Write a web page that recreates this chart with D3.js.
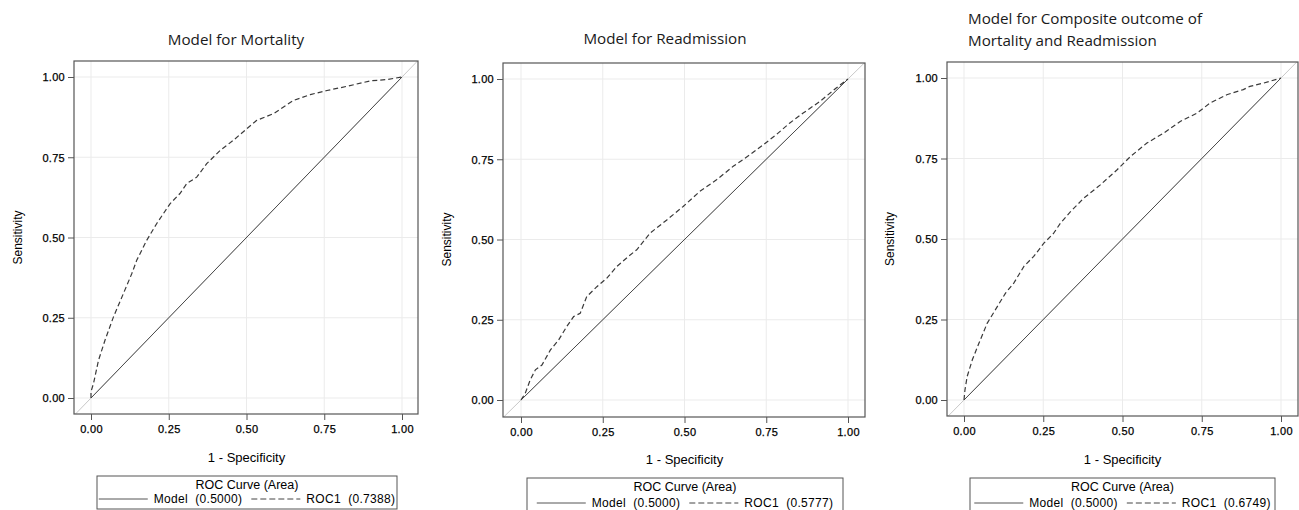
<!DOCTYPE html>
<html>
<head>
<meta charset="utf-8">
<script src="https://cdn.jsdelivr.net/npm/d3@7"></script>
<style>
  html, body { margin: 0; padding: 0; background: #fff; }
  svg { display: block; }
  text { font-family: "Liberation Sans", Arial, sans-serif; }
  .title { font-family: "Open Sans", "Noto Sans", sans-serif; font-size: 15.2px; fill: #1a1a1a; }
</style>
</head>
<body>
<svg id="chart" width="1299" height="510"></svg>
<script>
// ---------------- DATA ----------------
const panelTitles = [
  ["Model for Mortality"],
  ["Model for Readmission"],
  ["Model for Composite outcome of", "Mortality and Readmission"]
];
const tickValues = [0, 0.25, 0.5, 0.75, 1];
const tickLabels = ["0.00", "0.25", "0.50", "0.75", "1.00"];
const xAxisTitle = "1 - Specificity";
const yAxisTitle = "Sensitivity";
const legendTitle = "ROC Curve (Area)";
const modelAreas = ["0.5000", "0.5000", "0.5000"];
const rocAreas = ["0.7388", "0.5777", "0.6749"];

// reference (Model) line
const modelFpr = [0, 1];
const modelTpr = [0, 1];

// ROC1 curve: Mortality
const mortFpr = [0, 0, 0.008, 0.024, 0.045, 0.072, 0.104, 0.131, 0.147, 0.179, 0.211, 0.254, 0.286, 0.308, 0.34, 0.372, 0.415, 0.458, 0.501, 0.533, 0.587, 0.651, 0.705, 0.759, 0.823, 0.898, 0.952, 1];
const mortTpr = [0, 0.02, 0.045, 0.117, 0.18, 0.252, 0.325, 0.387, 0.429, 0.491, 0.543, 0.605, 0.637, 0.668, 0.688, 0.73, 0.771, 0.803, 0.839, 0.865, 0.886, 0.927, 0.945, 0.958, 0.971, 0.988, 0.992, 1];

// ROC1 curve: Readmission
const readFpr = [0, 0.013, 0.028, 0.044, 0.064, 0.09, 0.115, 0.14, 0.161, 0.181, 0.201, 0.232, 0.262, 0.293, 0.334, 0.354, 0.395, 0.446, 0.496, 0.547, 0.598, 0.649, 0.7, 0.741, 0.781, 0.822, 0.863, 0.914, 0.964, 1];
const readTpr = [0, 0.021, 0.062, 0.094, 0.109, 0.156, 0.187, 0.229, 0.26, 0.27, 0.322, 0.353, 0.379, 0.416, 0.452, 0.468, 0.52, 0.561, 0.603, 0.65, 0.686, 0.728, 0.764, 0.795, 0.827, 0.863, 0.894, 0.93, 0.972, 1];

// ROC1 curve: Composite
const compFpr = [0, 0.003, 0.01, 0.026, 0.047, 0.073, 0.105, 0.131, 0.157, 0.189, 0.22, 0.252, 0.283, 0.304, 0.336, 0.378, 0.43, 0.483, 0.525, 0.577, 0.63, 0.682, 0.735, 0.776, 0.829, 0.881, 0.902, 0.944, 1];
const compTpr = [0, 0.031, 0.073, 0.124, 0.176, 0.238, 0.29, 0.332, 0.363, 0.415, 0.446, 0.487, 0.518, 0.549, 0.585, 0.627, 0.668, 0.715, 0.756, 0.798, 0.829, 0.865, 0.891, 0.922, 0.948, 0.964, 0.974, 0.984, 1];

const rocFpr = [mortFpr, readFpr, compFpr];
const rocTpr = [mortTpr, readTpr, compTpr];

// ---------------- LAYOUT ----------------
const layout = [
  { frame: [74, 61, 418, 414], x: [91, 402], y: [398, 77], ylab: 18, titleX: 236, titleAnchor: "middle", titleY: [45],
    xlabY: 462, legend: { x0: 97, x1: 397, top: 476, bottom: 509, titleY: 489, rowY: 503 } },
  { frame: [503, 63, 865, 417], x: [521, 848], y: [400, 79], ylab: 447, titleX: 665, titleAnchor: "middle", titleY: [44],
    xlabY: 464, legend: { x0: 527, x1: 843, top: 478, bottom: 512, titleY: 491, rowY: 507 } },
  { frame: [947, 62, 1298, 416], x: [964, 1281], y: [400, 78], ylab: 890, titleX: 968, titleAnchor: "start", titleY: [24, 46],
    xlabY: 464, legend: { x0: 970, x1: 1275, top: 478, bottom: 512, titleY: 491, rowY: 507 } }
];

const svg = d3.select("#chart");

layout.forEach((L, i) => {
  const g = svg.append("g");
  const xs = d3.scaleLinear().domain([0, 1]).range(L.x);
  const ys = d3.scaleLinear().domain([0, 1]).range(L.y);
  const [fx0, fy0, fx1, fy1] = L.frame;

  const clipId = "clip" + i;
  svg.append("defs").append("clipPath").attr("id", clipId)
    .append("rect").attr("x", fx0).attr("y", fy0).attr("width", fx1 - fx0).attr("height", fy1 - fy0);

  // gridlines
  g.selectAll(".vg").data(tickValues).join("line")
    .attr("x1", d => xs(d)).attr("x2", d => xs(d)).attr("y1", fy0).attr("y2", fy1)
    .attr("stroke", "#ebebeb").attr("stroke-width", 1);
  g.selectAll(".hg").data(tickValues).join("line")
    .attr("y1", d => ys(d)).attr("y2", d => ys(d)).attr("x1", fx0).attr("x2", fx1)
    .attr("stroke", "#ebebeb").attr("stroke-width", 1);

  const plot = g.append("g").attr("clip-path", `url(#${clipId})`);
  // light diagonal across full plot area
  const ext = [xs.invert(fx0) - 0.1, xs.invert(fx1) + 0.1];
  plot.append("line")
    .attr("x1", xs(ext[0])).attr("y1", ys(ext[0]))
    .attr("x2", xs(ext[1])).attr("y2", ys(ext[1]))
    .attr("stroke", "#c8c8c8").attr("stroke-width", 1);

  const line = d3.line().x(d => xs(d[0])).y(d => ys(d[1]));
  // Model line
  plot.append("path").datum(d3.zip(modelFpr, modelTpr)).attr("d", line)
    .attr("fill", "none").attr("stroke", "#4a4a4a").attr("stroke-width", 1);
  // ROC1 curve
  plot.append("path").datum(d3.zip(rocFpr[i], rocTpr[i])).attr("d", line)
    .attr("fill", "none").attr("stroke", "#3a3a3a").attr("stroke-width", 1.2)
    .attr("stroke-dasharray", "5,3");

  // frame
  g.append("rect").attr("x", fx0).attr("y", fy0).attr("width", fx1 - fx0).attr("height", fy1 - fy0)
    .attr("fill", "none").attr("stroke", "#555").attr("stroke-width", 1.2);

  // axes
  const xAxis = d3.axisBottom(xs).tickValues(tickValues).tickFormat((d, k) => tickLabels[k]).tickSize(6).tickPadding(5);
  const yAxis = d3.axisLeft(ys).tickValues(tickValues).tickFormat((d, k) => tickLabels[k]).tickSize(6).tickPadding(3);
  const gx = g.append("g").attr("transform", `translate(0,${fy1})`).call(xAxis);
  const gy = g.append("g").attr("transform", `translate(${fx0},0)`).call(yAxis);
  [gx, gy].forEach(a => {
    a.select(".domain").remove();
    a.selectAll(".tick line").attr("stroke", "#555");
    a.selectAll(".tick text").attr("font-family", "Liberation Sans, Arial, sans-serif")
      .attr("font-size", 11).attr("fill", "#000").attr("letter-spacing", "0.3px")
      .attr("stroke", "#000").attr("stroke-width", 0.25);
  });
  gy.selectAll(".tick text").attr("dy", "0.34em");

  // axis titles
  g.append("text").attr("x", (xs(0) + xs(1)) / 2).attr("y", L.xlabY)
    .attr("text-anchor", "middle").attr("font-size", 13).attr("fill", "#000").text(xAxisTitle);
  g.append("text").attr("transform", `translate(${L.ylab + 4},${(ys(0) + ys(1)) / 2}) rotate(-90)`)
    .attr("text-anchor", "middle").attr("font-size", 12).attr("fill", "#000").text(yAxisTitle);

  // panel title
  panelTitles[i].forEach((t, k) => {
    g.append("text").attr("class", "title").attr("x", L.titleX).attr("y", L.titleY[k])
      .attr("text-anchor", L.titleAnchor).text(t);
  });

  // legend
  const lg = L.legend;
  g.append("rect").attr("x", lg.x0).attr("y", lg.top).attr("width", lg.x1 - lg.x0).attr("height", lg.bottom - lg.top)
    .attr("fill", "#fff").attr("stroke", "#555").attr("stroke-width", 1);
  g.append("text").attr("x", (lg.x0 + lg.x1) / 2).attr("y", lg.titleY).attr("text-anchor", "middle")
    .attr("font-size", 12.5).attr("fill", "#000").text(legendTitle);

  const row = g.append("g");
  const sw = 49;
  let cx = 0;
  row.append("line").attr("x1", cx).attr("x2", cx + sw).attr("y1", -4).attr("y2", -4)
    .attr("stroke", "#555").attr("stroke-width", 1);
  cx += sw + 6;
  const t1 = row.append("text").attr("x", cx).attr("y", 0).attr("font-size", 12).attr("fill", "#000")
    .attr("letter-spacing", "0.3px").style("white-space", "pre").text("Model  (" + modelAreas[i] + ")");
  cx += t1.node().getComputedTextLength() + 9;
  row.append("line").attr("x1", cx).attr("x2", cx + sw).attr("y1", -4).attr("y2", -4)
    .attr("stroke", "#444").attr("stroke-width", 1).attr("stroke-dasharray", "6,3");
  cx += sw + 6;
  const t2 = row.append("text").attr("x", cx).attr("y", 0).attr("font-size", 12).attr("fill", "#000")
    .attr("letter-spacing", "0.3px").style("white-space", "pre").text("ROC1  (" + rocAreas[i] + ")");
  cx += t2.node().getComputedTextLength();
  const rowX = (lg.x0 + lg.x1) / 2 - cx / 2;
  row.attr("transform", `translate(${rowX},${lg.rowY})`);
});
</script>
</body>
</html>
